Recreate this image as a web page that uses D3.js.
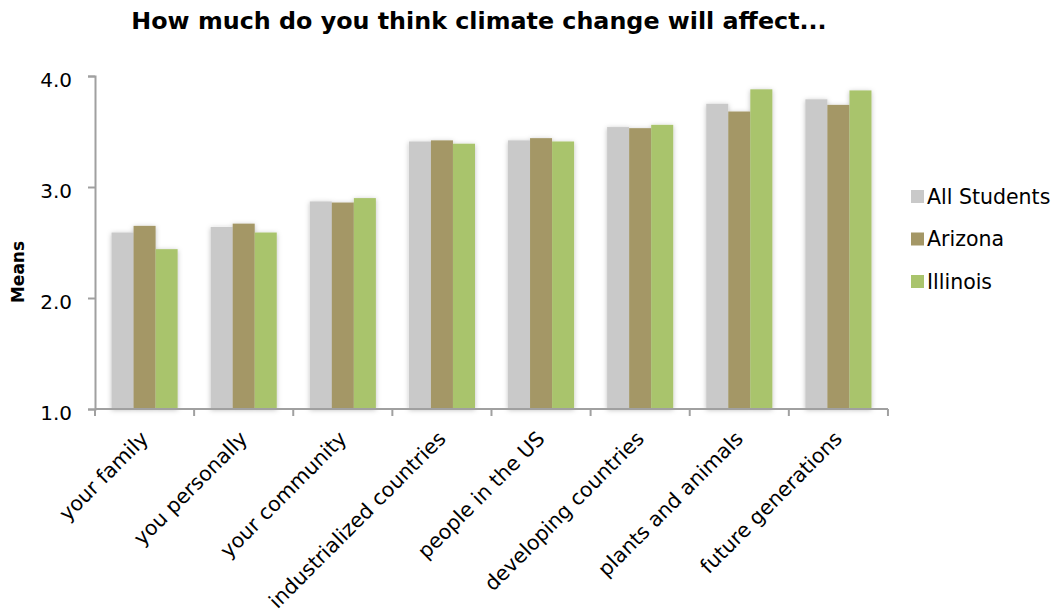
<!DOCTYPE html>
<html>
<head>
<meta charset="utf-8">
<script src="https://cdn.jsdelivr.net/npm/d3@7"></script>
<style>
  body { margin: 0; background: #fff; }
  svg text { font-family: "DejaVu Sans", Verdana, sans-serif; fill: #000; }
</style>
</head>
<body>
<div class="chart"></div>
<script>
// data
const categories = ["your family", "you personally", "your community", "industrialized countries",
  "people in the US", "developing countries", "plants and animals", "future generations"];
const seriesNames = ["All Students", "Arizona", "Illinois"];
const allStudents = [2.59, 2.64, 2.87, 3.41, 3.42, 3.54, 3.75, 3.79];
const arizona     = [2.65, 2.67, 2.86, 3.42, 3.44, 3.53, 3.68, 3.74];
const illinois    = [2.44, 2.59, 2.90, 3.39, 3.41, 3.56, 3.88, 3.87];
const yTicks = [1, 2, 3, 4];
const colors = ["#C9C9C9", "#A49766", "#A9C46C"];

const width = 1059, height = 613;
const margin = {left: 95, right: 171, top: 76, bottom: 204};

const svg = d3.select(".chart").append("svg")
  .attr("width", width)
  .attr("height", height);

// soft shadow like the original
const defs = svg.append("defs");
defs.append("filter").attr("id", "shadow")
  .attr("x", "-30%").attr("y", "-10%").attr("width", "160%").attr("height", "120%")
  .append("feDropShadow")
  .attr("dx", 0).attr("dy", 1).attr("stdDeviation", 2.5)
  .attr("flood-color", "#000").attr("flood-opacity", 0.25);

const x = d3.scaleBand()
  .domain(categories)
  .range([margin.left, width - margin.right])
  .paddingInner(0.333).paddingOuter(0.1667);

const x1 = d3.scaleBand()
  .domain(seriesNames)
  .range([0, x.bandwidth()]);

const y = d3.scaleLinear()
  .domain([1, 4])
  .range([height - margin.bottom, margin.top]);

const rows = categories.map((c, i) => ({
  cat: c,
  vals: [allStudents[i], arizona[i], illinois[i]]
}));

// bars
const groups = svg.append("g").selectAll("g")
  .data(rows)
  .join("g")
  .attr("transform", d => `translate(${x(d.cat)},0)`)
  .attr("filter", "url(#shadow)");

groups.selectAll("rect")
  .data(d => d.vals.map((v, k) => ({name: seriesNames[k], v, k})))
  .join("rect")
  .attr("x", d => x1(d.name))
  .attr("width", x1.bandwidth())
  .attr("y", d => y(d.v))
  .attr("height", d => y(1) - y(d.v))
  .attr("fill", d => colors[d.k]);

// y axis
const yAxis = svg.append("g")
  .attr("transform", `translate(${margin.left},0)`)
  .call(d3.axisLeft(y).tickValues(yTicks).tickFormat(d3.format(".1f")).tickSize(7).tickPadding(16));
yAxis.select(".domain").attr("stroke", "#A0A0A0").attr("stroke-width", 2);
yAxis.selectAll(".tick line").attr("stroke", "#A0A0A0").attr("stroke-width", 2);
yAxis.selectAll(".tick text")
  .attr("dy", "0.5em")
  .style("font-size", "20px").style("font-family", "DejaVu Sans");

// x axis, ticks between categories
const step = x.step();
const xAxis = svg.append("g");
xAxis.append("line")
  .attr("x1", margin.left).attr("x2", width - margin.right)
  .attr("y1", y(1)).attr("y2", y(1))
  .attr("stroke", "#A0A0A0").attr("stroke-width", 2);
xAxis.selectAll(".sep")
  .data(d3.range(categories.length + 1))
  .join("line")
  .attr("x1", i => margin.left + i * step)
  .attr("x2", i => margin.left + i * step)
  .attr("y1", y(1)).attr("y2", y(1) + 7)
  .attr("stroke", "#A0A0A0").attr("stroke-width", 2);

xAxis.selectAll(".lab")
  .data(categories)
  .join("text")
  .attr("transform", d => `translate(${x(d) + x.bandwidth() / 2 + 5},${y(1) + 31}) rotate(-45)`)
  .attr("text-anchor", "end")
  .style("font-size", "20.5px")
  .text(d => d);

// titles
svg.append("text")
  .attr("x", 479).attr("y", 29)
  .attr("text-anchor", "middle")
  .style("font-size", "23.8px").style("font-weight", "bold")
  .text("How much do you think climate change will affect...");

svg.append("text")
  .attr("transform", `translate(24,272) rotate(-90)`)
  .attr("text-anchor", "middle")
  .style("font-size", "17px").style("font-weight", "bold")
  .text("Means");

// legend
const legend = svg.append("g")
  .selectAll("g")
  .data(seriesNames)
  .join("g")
  .attr("transform", (d, i) => `translate(911,${196.5 + i * 42.5})`);
legend.append("rect")
  .attr("x", 0).attr("y", -6.5).attr("width", 13).attr("height", 13)
  .attr("fill", (d, i) => colors[i]);
legend.append("text")
  .attr("x", 16).attr("y", 7)
  .style("font-size", "20.5px")
  .text(d => d);
</script>
</body>
</html>
